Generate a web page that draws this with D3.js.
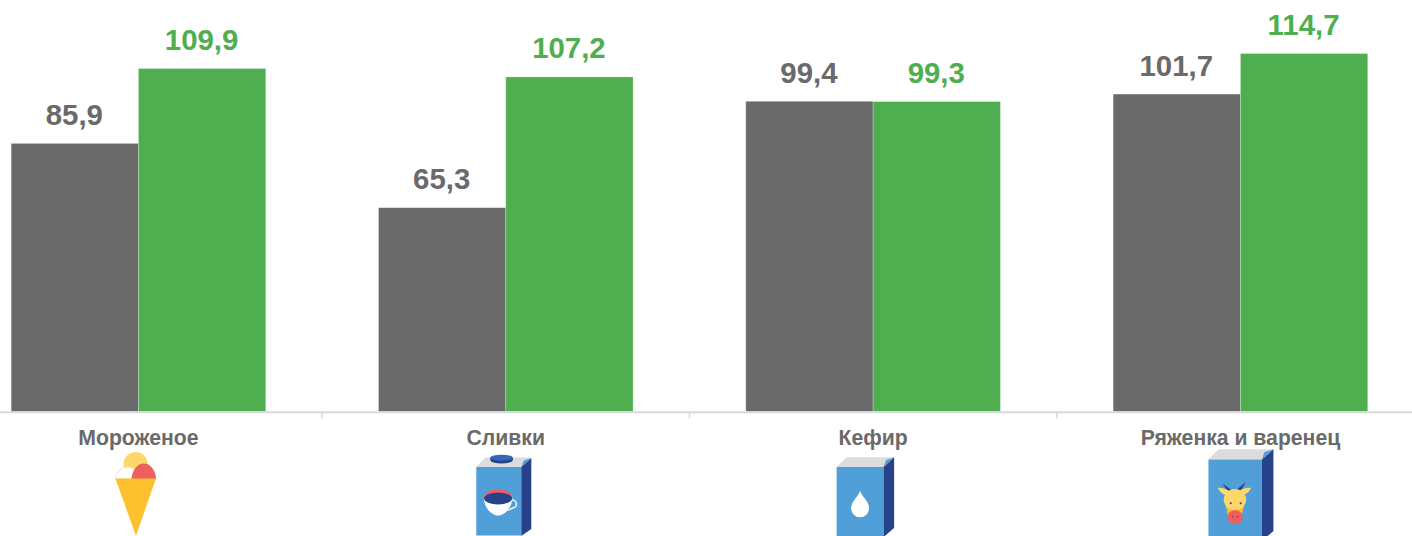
<!DOCTYPE html>
<html>
<head>
<meta charset="utf-8">
<script src="https://cdn.jsdelivr.net/npm/d3@7"></script>
<style>
  html, body { margin: 0; padding: 0; background: #fff; overflow: hidden; }
  svg { display: block; }
  text { opacity: 0.999; }
</style>
</head>
<body>
<svg></svg>
<script>
// данные
const categories = ["Мороженое", "Сливки", "Кефир", "Ряженка и варенец"];
const seriesGray = [85.9, 65.3, 99.4, 101.7];
const seriesGreen = [109.9, 107.2, 99.3, 114.7];
const seriesColors = ["#6a6a6a", "#4fae50"];

const width = 1412;
const height = 536;
const baseline = 411.5;

const svg = d3.select("svg").attr("width", width).attr("height", height);

// шкалы (левый и правый края графика обрезаны кадром)
const x = d3.scaleBand().domain(categories).range([-45.2, 1424.1]).paddingInner(0).paddingOuter(0);
const groupWidth = 254.6;
const xSeries = d3.scaleBand().domain([0, 1]).range([0, groupWidth]);
const y = d3.scaleLinear().domain([0, 109.9]).range([baseline, 68.5]);

const fmt = (v) => v.toFixed(1).replace(".", ",");
const groupX = (c) => x(c) + (x.bandwidth() - groupWidth) / 2;

// столбцы и подписи значений
[seriesGray, seriesGreen].forEach((values, s) => {
  const g = svg.append("g").attr("class", `series-${s}`);
  g.selectAll("rect")
    .data(values)
    .join("rect")
    .attr("x", (d, i) => groupX(categories[i]) + xSeries(s))
    .attr("y", (d) => y(d))
    .attr("width", xSeries.bandwidth())
    .attr("height", (d) => y(0) - y(d))
    .attr("fill", seriesColors[s])
    .attr("stroke", "#fff")
    .attr("stroke-opacity", 0.35)
    .attr("stroke-width", 0.75);
  g.selectAll("text")
    .data(values)
    .join("text")
    .attr("x", (d, i) => groupX(categories[i]) + xSeries(s) + xSeries.bandwidth() / 2 - 0.5)
    .attr("y", (d) => y(d) - 18.5)
    .attr("text-anchor", "middle")
    .attr("font-family", "Liberation Sans")
    .attr("font-weight", "bold")
    .attr("font-size", 29.4)
    .attr("fill", seriesColors[s])
    .text(fmt);
});

// ось X
const axis = svg.append("g").attr("class", "x-axis").attr("transform", `translate(0,${baseline})`);
axis.call(d3.axisBottom(x).tickSize(0).tickFormat(""));
axis.select("path").remove();
axis.append("line").attr("x1", 0).attr("x2", width).attr("y1", 0.7).attr("y2", 0.7).attr("stroke", "#dadada").attr("stroke-width", 2);
axis.selectAll(".sep")
  .data(categories.slice(1))
  .join("line")
  .attr("class", "sep")
  .attr("x1", (d) => x(d))
  .attr("x2", (d) => x(d))
  .attr("y1", 0)
  .attr("y2", 7)
  .attr("stroke", "#dadada")
  .attr("stroke-width", 1.5);

svg.append("g")
  .selectAll("text")
  .data(categories)
  .join("text")
  .attr("x", (d) => x(d) + x.bandwidth() / 2)
  .attr("y", 445)
  .attr("text-anchor", "middle")
  .attr("font-family", "Liberation Sans")
  .attr("font-weight", "bold")
  .attr("font-size", 21.2)
  .attr("fill", "#6a6a6a")
  .text((d) => d);

// иконки
const blue = "#519fd9";
const navy = "#284289";
const lid = "#dcdcdc";
const yellow = "#fdd76a";
const orange = "#fdc02f";
const red = "#ee5f5f";

const iconCenter = (c) => x(c) + x.bandwidth() / 2;

// мороженое
const iceCream = svg.append("g").attr("transform", `translate(${iconCenter("Мороженое")},0)`);
iceCream.append("circle").attr("cx", -2.8).attr("cy", 464).attr("r", 12).attr("fill", yellow);
iceCream.append("path").attr("d", "M-23,479 A12,12 0 1 1 1,479 Z").attr("fill", "#fff").attr("stroke", "#e4e4e4").attr("stroke-width", 1);
iceCream.append("path").attr("d", "M-7,479 A12.4,17 0 0 1 17.7,479 Z").attr("fill", red);
iceCream.append("polygon").attr("points", "-23,478.5 17.5,478.5 -2.5,536").attr("fill", orange);

// сливки
const cream = svg.append("g").attr("transform", `translate(${iconCenter("Сливки") - 3},0)`);
cream.append("polygon").attr("points", "-27,467 -17,457.5 28,457.5 18.5,467").attr("fill", lid);
cream.append("ellipse").attr("cx", -1.2).attr("cy", 460).attr("rx", 11.3).attr("ry", 3.6).attr("fill", navy);
cream.append("rect").attr("x", -12.5).attr("y", 457.5).attr("width", 22.6).attr("height", 2.5).attr("fill", navy);
cream.append("ellipse").attr("cx", -1.2).attr("cy", 457.7).attr("rx", 11.3).attr("ry", 3).attr("fill", "#3568b4");
cream.append("rect").attr("x", -26.5).attr("y", 467).attr("width", 45).attr("height", 68.5).attr("fill", blue);
cream.append("polygon").attr("points", "18.5,467 28.5,458 28.5,529 18.5,536").attr("fill", navy);
cream.append("polygon").attr("points", "18.5,467 28.5,458 21,460.5").attr("fill", blue);
cream.append("path").attr("d", "M7,501 a4,4 0 1 1 3,7 l-5,2.5").attr("fill", "none").attr("stroke", "#fff").attr("stroke-width", 1.3);
cream.append("path").attr("d", "M-19,498 A14.3,7 0 0 1 9.6,498 C9,509 1,515.5 -4.7,515.5 C-10.5,515.5 -18.4,509 -19,498 Z").attr("fill", "#fff");
cream.append("path").attr("d", "M-19,498 A14.3,9 0 0 1 9.6,498 Z").attr("fill", red);
cream.append("ellipse").attr("cx", -4.7).attr("cy", 498.5).attr("rx", 14).attr("ry", 6).attr("fill", navy);

// кефир
const kefir = svg.append("g").attr("transform", `translate(${iconCenter("Кефир")},0)`);
kefir.append("polygon").attr("points", "-36.5,467 -26.5,457.3 21,457.3 10.5,467").attr("fill", lid);
kefir.append("rect").attr("x", -36.5).attr("y", 467).attr("width", 47).attr("height", 69).attr("fill", blue);
kefir.append("polygon").attr("points", "10.5,467 21,457.3 21,528 10.5,537").attr("fill", navy);
kefir.append("polygon").attr("points", "10.5,467 21,457.3 13,460").attr("fill", blue);
kefir.append("path").attr("d", "M-13,490.7 C-11,497 -4,501 -4,508.3 A9,9 0 0 1 -22,508.3 C-22,501 -15,497 -13,490.7 Z").attr("fill", "#fff");

// ряженка и варенец
const ryazhenka = svg.append("g").attr("transform", `translate(${iconCenter("Ряженка и варенец")},0)`);
ryazhenka.append("polygon").attr("points", "-32,459.5 -22,449.3 33,449.3 21.5,459.5").attr("fill", lid);
ryazhenka.append("rect").attr("x", -32).attr("y", 459.5).attr("width", 53.5).attr("height", 76.5).attr("fill", blue);
ryazhenka.append("polygon").attr("points", "21.5,459.5 33,449.3 33,531 21.5,541").attr("fill", navy);
ryazhenka.append("polygon").attr("points", "21.5,459.5 33,449.3 24,452").attr("fill", blue);
// рога
ryazhenka.append("polygon").attr("points", "-18.2,483.3 -8.5,490.5 -11.5,493").attr("fill", navy);
ryazhenka.append("polygon").attr("points", "5.5,481.7 -0.5,492.5 -4,490").attr("fill", navy);
// уши
ryazhenka.append("path").attr("d", "M-11,496 C-16,496 -21,492 -22.5,488 C-18,487 -13,490 -9,492 Z").attr("fill", yellow);
ryazhenka.append("path").attr("d", "M-1,496 C4,496 9,492 10.5,488 C6,487 1,489 -3,492 Z").attr("fill", yellow);
// голова
ryazhenka.append("path").attr("d", "M-11,490.5 C-8,488.5 -3,488.5 0,490.5 C5,494 7,498 5,503 C3,507 1.5,511 1.5,516 L-12.5,516 C-12.5,511 -14,507 -16,503 C-18,498 -16,494 -11,490.5 Z").attr("fill", yellow);
ryazhenka.append("path").attr("d", "M-14.3,507 L-5.5,511 L3.3,507 C2,510 1.5,513 1.5,516 L-12.5,516 C-12.5,513 -13,510 -14.3,507 Z").attr("fill", orange);
ryazhenka.append("ellipse").attr("cx", -5.3).attr("cy", 517).attr("rx", 7.6).attr("ry", 7).attr("fill", red);
ryazhenka.append("circle").attr("cx", -7.7).attr("cy", 516.7).attr("r", 0.9).attr("fill", "#b53a45");
ryazhenka.append("circle").attr("cx", -2.7).attr("cy", 516.7).attr("r", 0.9).attr("fill", "#b53a45");
ryazhenka.append("circle").attr("cx", -9.7).attr("cy", 503.3).attr("r", 1).attr("fill", navy);
ryazhenka.append("circle").attr("cx", 0.2).attr("cy", 503.3).attr("r", 1).attr("fill", navy);
</script>
</body>
</html>
